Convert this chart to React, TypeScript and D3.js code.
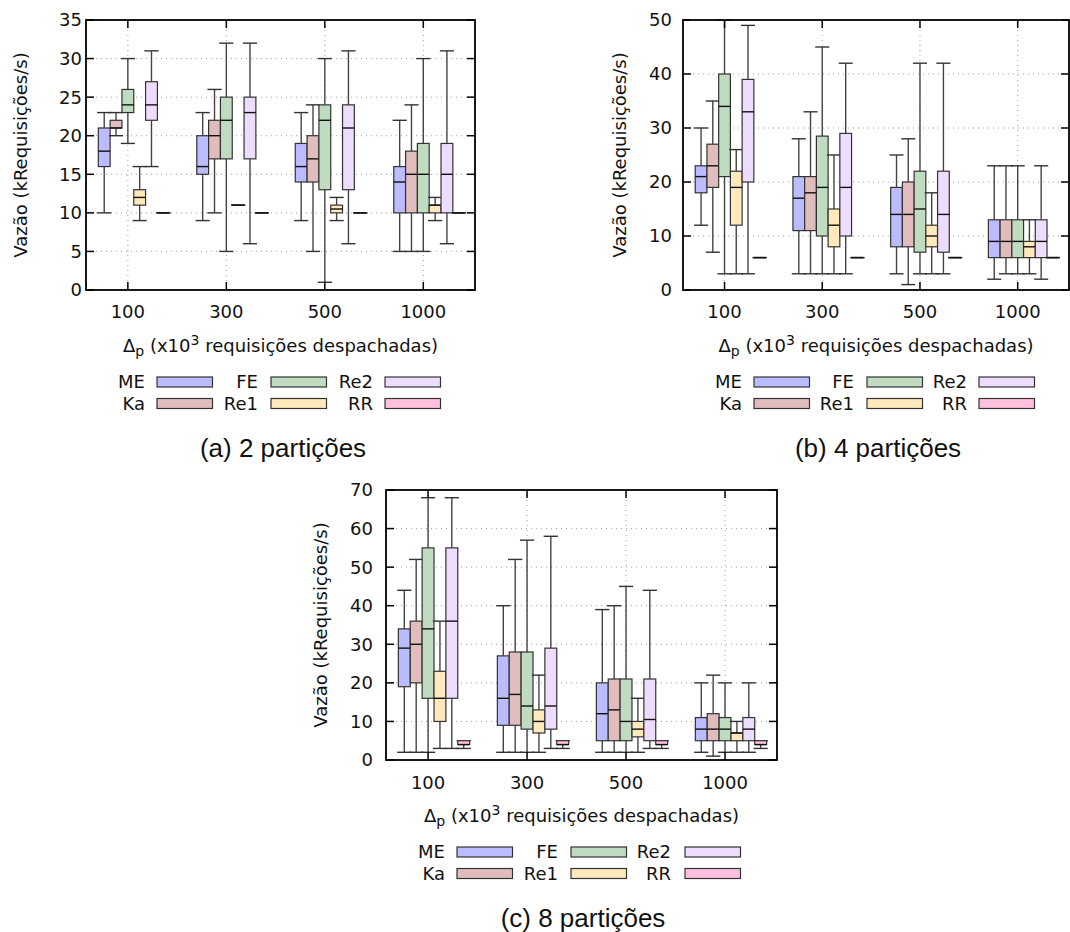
import React from 'react';
import * as d3 from 'd3';

// ---------- DATA ----------
const categories = ['100', '300', '500', '1000'];
const seriesNames = ['ME', 'Ka', 'FE', 'Re1', 'Re2', 'RR'];
const seriesColors = ['#bbbbff', '#e0bcbc', '#c0dcc0', '#ffe8bc', '#eedcff', '#ffc0e0'];

// each entry: [min, q1, median, q3, max] for categories 100, 300, 500, 1000
// (a) 2 partições
const a_ME = [[10, 16, 18, 21, 23], [9, 15, 16, 20, 23], [9, 14, 16, 19, 23], [5, 10, 14, 16, 22]];
const a_Ka = [[20, 21, 21, 22, 23], [10, 17, 20, 22, 26], [5, 14, 17, 20, 24], [5, 10, 15, 18, 24]];
const a_FE = [[19, 23, 24, 26, 30], [5, 17, 22, 25, 32], [1, 13, 22, 24, 30], [5, 10, 15, 19, 30]];
const a_Re1 = [[9, 11, 12, 13, 16], [11, 11, 11, 11, 11], [9, 10, 10.5, 11, 12], [9, 10, 11, 11, 12]];
const a_Re2 = [[16, 22, 24, 27, 31], [6, 17, 23, 25, 32], [6, 13, 21, 24, 31], [6, 10, 15, 19, 31]];
const a_RR = [[10, 10, 10, 10, 10], [10, 10, 10, 10, 10], [10, 10, 10, 10, 10], [10, 10, 10, 10, 10]];

// (b) 4 partições
const b_ME = [[12, 18, 21, 23, 30], [3, 11, 17, 21, 28], [3, 8, 14, 19, 25], [2, 6, 9, 13, 23]];
const b_Ka = [[7, 19, 23, 27, 35], [3, 11, 18, 21, 33], [1, 8, 14, 20, 28], [3, 6, 9, 13, 23]];
const b_FE = [[3, 21, 34, 40, 50], [3, 10, 19, 28.5, 45], [3, 7, 15, 22, 42], [3, 6, 9, 13, 23]];
const b_Re1 = [[3, 12, 19, 22, 26], [3, 8, 12, 15, 25], [3, 8, 10, 12, 18], [3, 6, 8, 9, 13]];
const b_Re2 = [[3, 20, 33, 39, 49], [3, 10, 19, 29, 42], [3, 7, 14, 22, 42], [2, 6, 9, 13, 23]];
const b_RR = [[6, 6, 6, 6, 6], [6, 6, 6, 6, 6], [6, 6, 6, 6, 6], [6, 6, 6, 6, 6]];

// (c) 8 partições
const c_ME = [[2, 19, 29, 34, 44], [2, 9, 16, 27, 40], [2, 5, 12, 20, 39], [2, 5, 8, 11, 20]];
const c_Ka = [[2, 20, 30, 36, 52], [2, 9, 17, 28, 52], [2, 5, 13, 21, 40], [1, 5, 8, 12, 22]];
const c_FE = [[2, 16, 34, 55, 68], [2, 8, 14, 28, 57], [2, 5, 10, 21, 45], [2, 5, 8, 11, 20]];
const c_Re1 = [[3, 10, 16, 23, 36], [2, 7, 10, 13, 22], [2, 6, 8, 10, 16], [2, 5, 7, 7, 10]];
const c_Re2 = [[3, 16, 36, 55, 68], [3, 8, 14, 29, 58], [3, 5, 10.5, 21, 44], [2, 5, 8, 11, 20]];
const c_RR = [[3, 4, 4, 5, 5], [3, 4, 4, 5, 5], [3, 4, 4, 5, 5], [3, 4, 4, 5, 5]];

const yTicksA = [0, 5, 10, 15, 20, 25, 30, 35];
const yTicksB = [0, 10, 20, 30, 40, 50];
const yTicksC = [0, 10, 20, 30, 40, 50, 60, 70];

// ---------- LAYOUT ----------
const panels = [
  {
    data: [a_ME, a_Ka, a_FE, a_Re1, a_Re2, a_RR], yTicks: yTicksA,
    left: 86, right: 475, top: 20, bottom: 290,
    ylabX: 21, tickRight: 82, xtickY: 318, xtitleY: 352,
    legendRows: [382, 403.5], legendTextX: [145, 258, 373], legendSwX: [157, 271, 385],
    captionX: 283, captionY: 457, caption: '(a) 2 partições',
  },
  {
    data: [b_ME, b_Ka, b_FE, b_Re1, b_Re2, b_RR], yTicks: yTicksB,
    left: 683, right: 1069, top: 20, bottom: 290,
    ylabX: 620, tickRight: 672, xtickY: 318, xtitleY: 352,
    legendRows: [382, 403.5], legendTextX: [742, 854, 967], legendSwX: [754, 867, 979],
    captionX: 878, captionY: 457, caption: '(b) 4 partições',
  },
  {
    data: [c_ME, c_Ka, c_FE, c_Re1, c_Re2, c_RR], yTicks: yTicksC,
    left: 386, right: 777, top: 490, bottom: 760,
    ylabX: 320.5, tickRight: 373, xtickY: 789, xtitleY: 822,
    legendRows: [852, 873.5], legendTextX: [445, 558, 671], legendSwX: [457, 571, 685],
    captionX: 583, captionY: 927, caption: '(c) 8 partições',
  },
];

const FONT = '"DejaVu Sans", sans-serif';
const FS = 18;
const BOXW = 0.12;

function Panel({ p }: { p: any }) {
  const x = d3.scaleLinear().domain([0.575, 4.525]).range([p.left, p.right]);
  const yMax = p.yTicks[p.yTicks.length - 1];
  const y = d3.scaleLinear().domain([0, yMax]).range([p.bottom, p.top]);
  const bw = x(BOXW) - x(0);
  const capW = bw * 1.2;
  const cx = (p.left + p.right) / 2;
  const cy = (p.top + p.bottom) / 2;
  const tickLen = 8;
  const clipId = 'clip' + p.left;

  return (
    <g>
      <defs>
        <clipPath id={clipId}>
          <rect x={p.left} y={p.top} width={p.right - p.left} height={p.bottom - p.top} />
        </clipPath>
      </defs>
      {/* grid */}
      {p.yTicks.slice(1, -1).map((t: number) => (
        <line key={'gy' + t} x1={p.left} x2={p.right} y1={y(t)} y2={y(t)}
          stroke="#a0a0a0" strokeWidth={1} strokeDasharray="1,4" />
      ))}
      {categories.map((c, i) => (
        <line key={'gx' + c} x1={x(i + 1)} x2={x(i + 1)} y1={p.top} y2={p.bottom}
          stroke="#a0a0a0" strokeWidth={1} strokeDasharray="1,4" />
      ))}
      {/* boxes */}
      <g clipPath={`url(#${clipId})`}>
        {p.data.map((ser: number[][], k: number) =>
          ser.map((v, i) => {
            const xc = x(i + 1 + (k - 2) * BOXW);
            const [mn, q1, md, q3, mx] = v;
            return (
              <g key={k + '-' + i}>
                <line x1={xc} x2={xc} y1={y(mn)} y2={y(q1)} stroke="#444" strokeWidth={1.4} />
                <line x1={xc} x2={xc} y1={y(q3)} y2={y(mx)} stroke="#444" strokeWidth={1.4} />
                <line x1={xc - capW / 2} x2={xc + capW / 2} y1={y(mn)} y2={y(mn)} stroke="#333" strokeWidth={1.4} />
                <line x1={xc - capW / 2} x2={xc + capW / 2} y1={y(mx)} y2={y(mx)} stroke="#333" strokeWidth={1.4} />
                <rect x={xc - bw / 2} y={y(q3)} width={bw} height={Math.max(0, y(q1) - y(q3))}
                  fill={seriesColors[k]} stroke="#333" strokeWidth={1.2} />
                <line x1={xc - bw / 2} x2={xc + bw / 2} y1={y(md)} y2={y(md)} stroke="#111" strokeWidth={1.4} />
              </g>
            );
          })
        )}
      </g>
      {/* ticks */}
      {p.yTicks.map((t: number) => (
        <g key={'ty' + t}>
          <line x1={p.left} x2={p.left + tickLen} y1={y(t)} y2={y(t)} stroke="#000" strokeWidth={1.5} />
          <line x1={p.right} x2={p.right - tickLen} y1={y(t)} y2={y(t)} stroke="#000" strokeWidth={1.5} />
          <text x={p.tickRight} y={y(t)} dy="0.36em" textAnchor="end" fontFamily={FONT} fontSize={FS} fill="#111">{t}</text>
        </g>
      ))}
      {categories.map((c, i) => (
        <g key={'tx' + c}>
          <line x1={x(i + 1)} x2={x(i + 1)} y1={p.bottom} y2={p.bottom - tickLen} stroke="#000" strokeWidth={1.5} />
          <line x1={x(i + 1)} x2={x(i + 1)} y1={p.top} y2={p.top + tickLen} stroke="#000" strokeWidth={1.5} />
          <text x={x(i + 1)} y={p.xtickY} textAnchor="middle" fontFamily={FONT} fontSize={FS} fill="#111">{c}</text>
        </g>
      ))}
      {/* frame */}
      <rect x={p.left} y={p.top} width={p.right - p.left} height={p.bottom - p.top} fill="none" stroke="#000" strokeWidth={1.8} />
      {/* y label */}
      <text transform={`translate(${p.ylabX},${cy}) rotate(-90)`} textAnchor="middle" dy="0.36em"
        fontFamily={FONT} fontSize={FS} fill="#111">Vazão (kRequisições/s)</text>
      {/* x title */}
      <text x={cx} y={p.xtitleY} textAnchor="middle" fontFamily={FONT} fontSize={FS} fill="#111">
        Δ<tspan fontSize={14} dy="4">p</tspan><tspan dy="-4"> (x10</tspan><tspan fontSize={14} dy="-7">3</tspan><tspan dy="7"> requisições despachadas)</tspan>
      </text>
      {/* legend */}
      {seriesNames.map((s, k) => {
        const col = Math.floor(k / 2);
        const row = k % 2;
        const ly = p.legendRows[row];
        return (
          <g key={'lg' + s}>
            <text x={p.legendTextX[col]} y={ly} dy="0.36em" textAnchor="end" fontFamily={FONT} fontSize={FS} fill="#111">{s}</text>
            <rect x={p.legendSwX[col]} y={ly - 5} width={55.5} height={10} fill={seriesColors[k]} stroke="#333" strokeWidth={1.2} />
          </g>
        );
      })}
      {/* caption */}
      <text x={p.captionX} y={p.captionY} textAnchor="middle" fontFamily='"Liberation Sans", Arial, sans-serif'
        fontSize={26} fill="#111">{p.caption}</text>
    </g>
  );
}

export default function App() {
  return (
    <svg width={1070} height={932} style={{ position: 'absolute', left: 0, top: 0, background: '#fff' }}>
      <rect x={0} y={0} width={1070} height={932} fill="#fff" />
      {panels.map((p, i) => <Panel key={i} p={p} />)}
    </svg>
  );
}
